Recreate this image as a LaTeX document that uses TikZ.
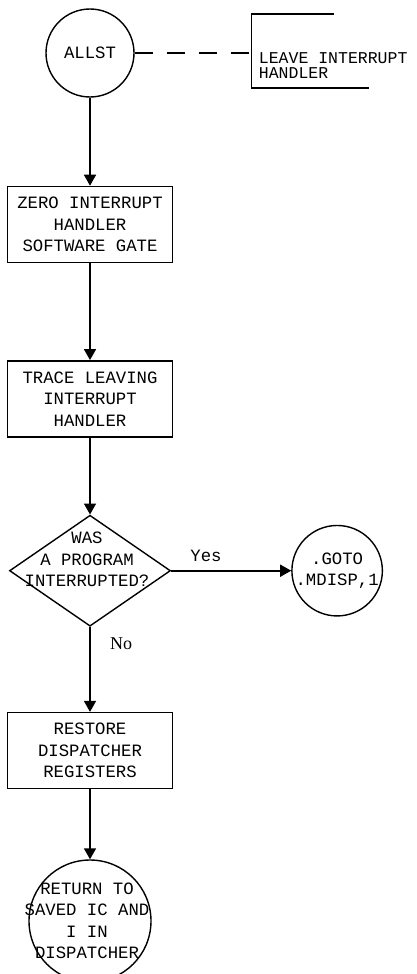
\documentclass[tikz,border=0pt]{standalone}
\usepackage{fontspec}
\setmonofont{Liberation Mono}
\newfontfamily\branchserif{Liberation Serif}
\usepackage{tikz}
\usetikzlibrary{arrows.meta, positioning, shapes.geometric}
\newcommand{\chartfont}{\ttfamily\fontsize{17.3}{21.5}\selectfont}
\newcommand{\notefont}{\ttfamily\fontsize{16.5}{15}\selectfont}
\newcommand{\branchfont}{\branchserif\fontsize{18}{20}\selectfont}

\begin{document}
\begin{tikzpicture}[
  x=1pt, y=-1pt,
  node distance = 88pt,
  box/.style = {
    rectangle, draw=black, line width=1.4pt,
    minimum width=165pt, minimum height=76pt, inner sep=0pt,
    font=\chartfont, align=center
  },
  term/.style = {circle, draw=black, line width=1.4pt, inner sep=0pt, font=\chartfont, align=center},
  dec/.style = {diamond, draw=black, line width=1.4pt, inner sep=0pt,
    minimum width=161pt, minimum height=111pt},
  txt/.style = {font=\chartfont, align=center, inner sep=0pt},
  note/.style = {font=\notefont, align=left, inner sep=0pt},
  arr/.style = {-{Triangle[length=11pt,width=12pt]}, line width=1.6pt},
  dashlink/.style = {line width=1.4pt, dash pattern=on 18pt off 14pt}
]
\useasboundingbox (0,0) rectangle (416,974);

\node[term, minimum size=88pt] (allst) at (90,53) {ALLST};
\node[note, right=124pt of allst, yshift=-13pt] (leave) {LEAVE INTERRUPT\\HANDLER};
\coordinate (brkl) at ([xshift=-7pt]leave.west);
\draw[line width=1.4pt]
  ([xshift=75pt,yshift=52pt]leave.west) -- ([xshift=-7pt,yshift=52pt]leave.west)
  -- ([xshift=-7pt,yshift=-22pt]leave.west) -- ([xshift=110pt,yshift=-22pt]leave.west);
\draw[dashlink] (allst.east) -- (allst.east -| brkl);

\node[box, below=88pt of allst] (zero) {ZERO INTERRUPT\\HANDLER\\SOFTWARE GATE};
\node[box, below=97pt of zero] (trace) {TRACE LEAVING\\INTERRUPT\\HANDLER};
\node[dec, below=77pt of trace] (ask) {};
\node[txt, yshift=11pt, xshift=-3pt] (asktxt) at (ask) {WAS\\A PROGRAM\\INTERRUPTED?};
\node[term, minimum size=90pt, right=120pt of ask] (goto) {.GOTO\\.MDISP,1};
\node[box, below=85pt of ask] (restore) {RESTORE\\DISPATCHER\\REGISTERS};
\node[term, minimum size=122pt, below=70pt of restore] (ret) {};
\node[txt, xshift=-3pt] (rettxt) at (ret) {RETURN TO\\SAVED IC AND\\I IN\\DISPATCHER};

\draw[arr] (allst) -- (zero);
\draw[arr] (zero) -- (trace);
\draw[arr] (trace) -- (ask);
\draw[arr] (ask) -- node[above=5pt, pos=0.29, font=\chartfont]{Yes} (goto);
\draw[arr] (ask) -- node[right=16pt, pos=0.2, font=\branchfont]{No} (restore);
\draw[arr] (restore) -- (ret);
\end{tikzpicture}
\end{document}
